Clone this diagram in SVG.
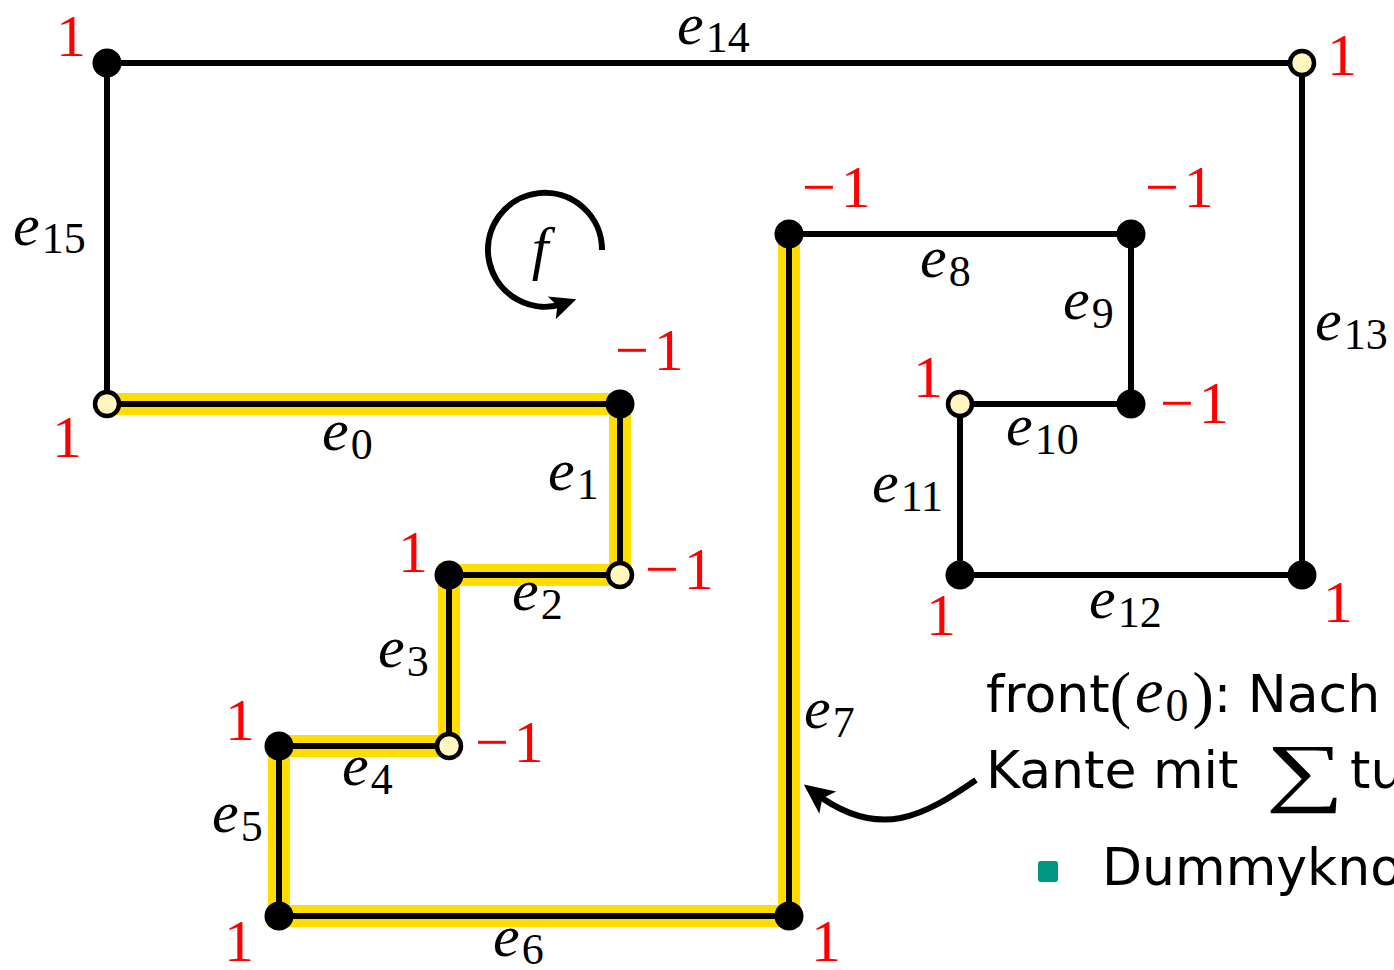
<svg xmlns="http://www.w3.org/2000/svg" width="1394" height="970" viewBox="0 0 1394 970">
<style>
.edge{stroke:#000;stroke-width:6;fill:none;stroke-linecap:butt}
.hl{stroke:#FFDD00;stroke-width:22;fill:none;stroke-linejoin:miter;stroke-linecap:butt}
.nb{fill:#000}
.nc{fill:#FFF7BF;stroke:#000;stroke-width:4.5}
.lbl{font-family:"Liberation Serif",serif;font-size:60px;fill:#000}
.lbl .e{font-style:italic}
.lbl .s{font-size:44px}
.num{font-family:"Liberation Serif",serif;font-size:60px;fill:#FF0000}
.sans{font-family:"DejaVu Sans","Liberation Sans",sans-serif;font-size:52px;fill:#000}
.arr{stroke:#000;stroke-width:6;fill:none}
</style>
<defs>
<marker id="ah" markerUnits="userSpaceOnUse" markerWidth="44" markerHeight="44" refX="22" refY="22" orient="auto" viewBox="0 0 44 44">
<path d="M36,22 L6,8 L13,22 L6,36 Z" fill="#000"/>
</marker>
<marker id="ah2" markerUnits="userSpaceOnUse" markerWidth="40" markerHeight="40" refX="20" refY="20" orient="auto" viewBox="0 0 40 40">
<path d="M33,20 L7,8 L13,20 L7,32 Z" fill="#000"/>
</marker>
</defs>

<g id="highlight">
<path class="hl" d="M107,404 H620 V575 H449 V746 H279 V916 H789 V234"/>
</g>

<g id="connectors">
<path id="e14" class="edge" d="M107,63 H1302"/>
<path id="e15" class="edge" d="M107,63 V404"/>
<path id="e0" class="edge" d="M107,404 H620"/>
<path id="e1" class="edge" d="M620,404 V575"/>
<path id="e2" class="edge" d="M620,575 H449"/>
<path id="e3" class="edge" d="M449,575 V746"/>
<path id="e4" class="edge" d="M449,746 H279"/>
<path id="e5" class="edge" d="M279,746 V916"/>
<path id="e6" class="edge" d="M279,916 H789"/>
<path id="e7" class="edge" d="M789,916 V234"/>
<path id="e8" class="edge" d="M789,234 H1131"/>
<path id="e9" class="edge" d="M1131,234 V404"/>
<path id="e10" class="edge" d="M1131,404 H960"/>
<path id="e11" class="edge" d="M960,404 V575"/>
<path id="e12" class="edge" d="M960,575 H1302"/>
<path id="e13" class="edge" d="M1302,575 V63"/>
<path id="face-arrow" class="arr" d="M602,250 A57,57 0 1 0 564,303.5" marker-end="url(#ah2)"/>
<path id="note-arrow" class="arr" d="M976,780 C925,815 880,842 815,793" marker-end="url(#ah)"/>
</g>

<g id="nA"><circle class="nb" cx="107" cy="63" r="14.5"/><text class="num" x="71" y="56" text-anchor="middle">1</text></g>
<g id="nB"><circle class="nc" cx="1302" cy="63" r="12"/><text class="num" x="1342" y="75" text-anchor="middle">1</text></g>
<g id="nC"><circle class="nc" cx="107" cy="404" r="12"/><text class="num" x="67" y="457" text-anchor="middle">1</text></g>
<g id="nD"><circle class="nb" cx="620" cy="404" r="14.5"/><text class="num" x="615" y="370">−<tspan dx="5">1</tspan></text></g>
<g id="nE"><circle class="nc" cx="620" cy="575" r="12"/><text class="num" x="645" y="589">−<tspan dx="5">1</tspan></text></g>
<g id="nF"><circle class="nb" cx="449" cy="575" r="14.5"/><text class="num" x="413" y="572" text-anchor="middle">1</text></g>
<g id="nG"><circle class="nc" cx="449" cy="746" r="12"/><text class="num" x="475" y="762">−<tspan dx="5">1</tspan></text></g>
<g id="nH"><circle class="nb" cx="279" cy="746" r="14.5"/><text class="num" x="240" y="740" text-anchor="middle">1</text></g>
<g id="nI"><circle class="nb" cx="279" cy="916" r="14.5"/><text class="num" x="239" y="961" text-anchor="middle">1</text></g>
<g id="nJ"><circle class="nb" cx="789" cy="916" r="14.5"/><text class="num" x="826" y="961" text-anchor="middle">1</text></g>
<g id="nK"><circle class="nb" cx="789" cy="234" r="14.5"/><text class="num" x="802" y="207">−<tspan dx="5">1</tspan></text></g>
<g id="nL"><circle class="nb" cx="1131" cy="234" r="14.5"/><text class="num" x="1145" y="207">−<tspan dx="5">1</tspan></text></g>
<g id="nM"><circle class="nb" cx="1131" cy="404" r="14.5"/><text class="num" x="1160" y="423">−<tspan dx="5">1</tspan></text></g>
<g id="nN"><circle class="nc" cx="960" cy="404" r="12"/><text class="num" x="928" y="397" text-anchor="middle">1</text></g>
<g id="nO"><circle class="nb" cx="960" cy="575" r="14.5"/><text class="num" x="941" y="635" text-anchor="middle">1</text></g>
<g id="nP"><circle class="nb" cx="1302" cy="575" r="14.5"/><text class="num" x="1338" y="622" text-anchor="middle">1</text></g>

<g id="edge-labels">
<text class="lbl" x="677" y="44"><tspan class="e">e</tspan><tspan class="s" dx="2" dy="8">14</tspan></text>
<text class="lbl" x="13" y="245"><tspan class="e">e</tspan><tspan class="s" dx="2" dy="8">15</tspan></text>
<text class="lbl" x="322" y="450"><tspan class="e">e</tspan><tspan class="s" dx="2" dy="9">0</tspan></text>
<text class="lbl" x="548" y="490"><tspan class="e">e</tspan><tspan class="s" dx="2" dy="9">1</tspan></text>
<text class="lbl" x="512" y="610"><tspan class="e">e</tspan><tspan class="s" dx="2" dy="9">2</tspan></text>
<text class="lbl" x="378" y="667"><tspan class="e">e</tspan><tspan class="s" dx="2" dy="9">3</tspan></text>
<text class="lbl" x="342" y="785"><tspan class="e">e</tspan><tspan class="s" dx="2" dy="9">4</tspan></text>
<text class="lbl" x="212" y="832"><tspan class="e">e</tspan><tspan class="s" dx="2" dy="9">5</tspan></text>
<text class="lbl" x="493" y="956"><tspan class="e">e</tspan><tspan class="s" dx="2" dy="8">6</tspan></text>
<text class="lbl" x="804" y="728"><tspan class="e">e</tspan><tspan class="s" dx="2" dy="9">7</tspan></text>
<text class="lbl" x="920" y="277"><tspan class="e">e</tspan><tspan class="s" dx="2" dy="9">8</tspan></text>
<text class="lbl" x="1063" y="319"><tspan class="e">e</tspan><tspan class="s" dx="2" dy="9">9</tspan></text>
<text class="lbl" x="1006" y="445"><tspan class="e">e</tspan><tspan class="s" dx="2" dy="9">10</tspan></text>
<text class="lbl" x="872" y="502"><tspan class="e">e</tspan><tspan class="s" dx="2" dy="9">11</tspan></text>
<text class="lbl" x="1089" y="618"><tspan class="e">e</tspan><tspan class="s" dx="2" dy="9">12</tspan></text>
<text class="lbl" x="1315" y="340"><tspan class="e">e</tspan><tspan class="s" dx="2" dy="9">13</tspan></text>
</g>

<g id="face">
<text class="lbl" x="540" y="268" text-anchor="middle" font-style="italic">f</text>
</g>

<g id="note">
<text class="sans" x="986" y="712">front<tspan font-family="Liberation Serif,serif" font-size="64" dy="4">(</tspan><tspan font-family="Liberation Serif,serif" font-style="italic" font-size="64" dx="4" dy="-4">e</tspan><tspan font-family="Liberation Serif,serif" font-size="46" dx="2" dy="9">0</tspan><tspan font-family="Liberation Serif,serif" font-size="64" dx="4" dy="-5">)</tspan><tspan dy="-4">: Nach</tspan></text>
<text class="sans" x="986" y="788">Kante mit</text>
<text font-family="Liberation Serif,serif" font-size="76" transform="translate(1266,797) scale(1.45,1)">∑</text>
<text class="sans" x="1350" y="788">tu</text>
<rect x="1038" y="861" width="20" height="21" rx="3" fill="#009682"/>
<text class="sans" x="1102" y="885">Dummykno</text>
</g>
</svg>
